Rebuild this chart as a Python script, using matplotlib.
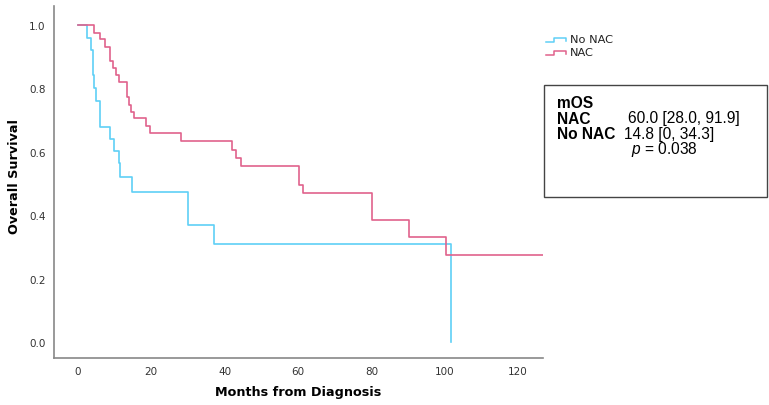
import matplotlib.pyplot as plt
from matplotlib.lines import Line2D

# step times (months) and survival after each step
nac_t = [0, 4.5, 6.0, 7.5, 8.9, 9.6, 10.3, 11.3, 13.5, 13.9, 14.4, 15.4, 18.5, 19.6,
         28.0, 42.1, 43.0, 44.6, 60.3, 61.3, 80.3, 90.4, 100.4, 127.0]
nac_s = [1.0, 0.976, 0.955, 0.932, 0.885, 0.864, 0.843, 0.819, 0.772, 0.748, 0.727,
         0.707, 0.682, 0.659, 0.635, 0.607, 0.582, 0.556, 0.497, 0.469, 0.384, 0.330,
         0.275, 0.275]

nonac_t = [0, 2.4, 3.7, 4.0, 4.2, 4.5, 4.9, 6.0, 8.9, 9.9, 11.1, 11.4, 14.8, 30.1,
           37.2, 101.8]
nonac_s = [1.0, 0.958, 0.92, 0.88, 0.843, 0.801, 0.762, 0.680, 0.642, 0.602, 0.565,
           0.521, 0.475, 0.370, 0.309, 0.0]

blue = '#5fd0f6'
pink = '#e0628c'

plt.rcParams['mathtext.fontset'] = 'custom'
plt.rcParams['mathtext.it'] = 'Liberation Sans:italic'
plt.rcParams['mathtext.rm'] = 'Liberation Sans'

fig = plt.figure(figsize=(7.69, 4.06), dpi=100)
ax = fig.add_axes([54 / 769, 1 - 359 / 406, (543 - 54) / 769, (359 - 7) / 406])

ax.step(nonac_t, nonac_s, where='post', color=blue, lw=1.2)
ax.step(nac_t, nac_s, where='post', color=pink, lw=1.2)

ax.set_xlim(-6.5, 126.8)
ax.set_ylim(-0.05, 1.06)
ax.set_xticks([0, 20, 40, 60, 80, 100, 120])
ax.set_yticks([0.0, 0.2, 0.4, 0.6, 0.8, 1.0])
ax.set_yticklabels(['0.0', '0.2', '0.4', '0.6', '0.8', '1.0'])
ax.tick_params(length=0, labelsize=7.5, labelcolor='#333333', pad=6)
for side in ['top', 'right']:
    ax.spines[side].set_visible(False)
for side in ['left', 'bottom']:
    ax.spines[side].set_color('#888888')
    ax.spines[side].set_linewidth(1.2)

fig.text(298 / 769, 1 - 393 / 406, 'Months from Diagnosis', fontsize=9.2,
         fontweight='bold', ha='center', va='center')
fig.text(15 / 769, 1 - 177 / 406, 'Overall Survival', fontsize=9.2,
         fontweight='bold', ha='center', va='center', rotation=90)

# legend with step-shaped icons
def icon(y, color):
    xs = [546, 554, 554, 566, 566]
    ys = [y + 3, y + 3, y - 1, y - 1, y + 1.5]
    fig.add_artist(Line2D([x / 769 for x in xs], [1 - v / 406 for v in ys],
                          transform=fig.transFigure, color=color, lw=1.1))

icon(40, blue)
icon(53, pink)
fig.text(570 / 769, 1 - 40 / 406, 'No NAC', fontsize=8.2, va='center', color='#222222')
fig.text(570 / 769, 1 - 53 / 406, 'NAC', fontsize=8.2, va='center', color='#222222')

# text box
fig.add_artist(plt.Rectangle((544 / 769, 1 - 198 / 406), (767 - 544) / 769, (198 - 86) / 406,
                             transform=fig.transFigure, fill=False, ec='#444444', lw=1.0))
fam = 'Liberation Sans'
fs = 11.2
fig.text(557 / 769, 1 - 103 / 406, 'mOS', fontsize=fs, fontweight='bold', family=fam, va='center')
fig.text(557 / 769, 1 - 119 / 406, 'NAC', fontsize=fs, fontweight='bold', family=fam, va='center')
fig.text(628 / 769, 1 - 119 / 406, '60.0 [28.0, 91.9]', fontsize=fs, family=fam, va='center')
fig.text(557 / 769, 1 - 134.5 / 406, 'No NAC', fontsize=fs, fontweight='bold', family=fam, va='center')
fig.text(624 / 769, 1 - 134.5 / 406, '14.8 [0, 34.3]', fontsize=fs, family=fam, va='center')
fig.text(631 / 769, 1 - 150 / 406, '$p$ = 0.038', fontsize=fs, family=fam, va='center')

fig.savefig('out.png', dpi=100)
